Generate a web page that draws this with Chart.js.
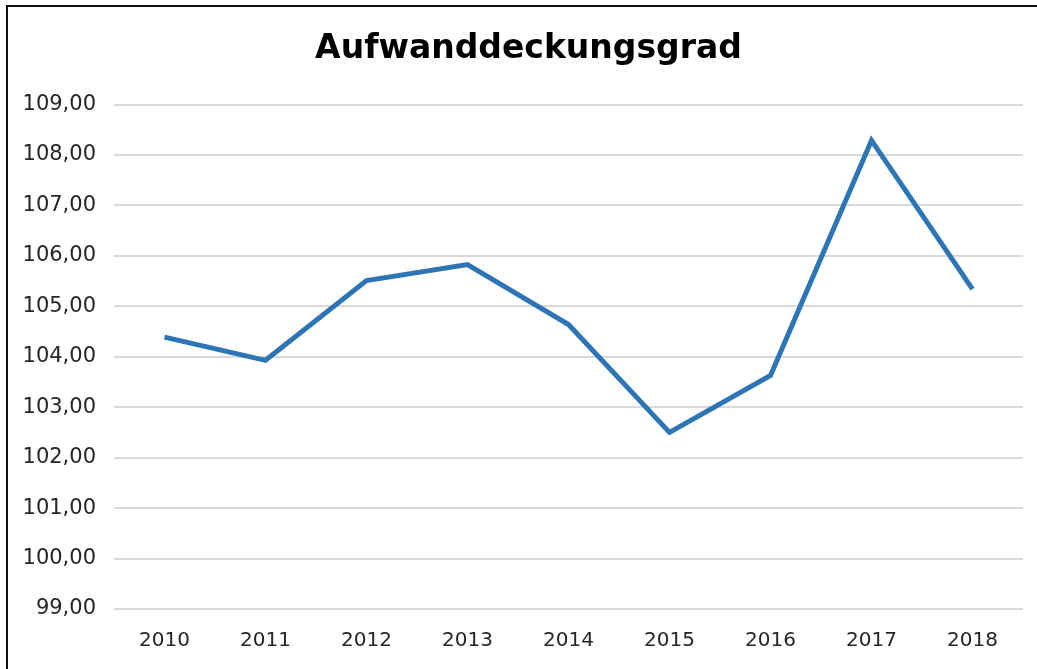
<!DOCTYPE html>
<html>
<head>
<meta charset="utf-8">
<script src="https://cdn.jsdelivr.net/npm/chart.js@4"></script>
<style>
  html, body { margin: 0; padding: 0; background: #fff; overflow: hidden; }
  #wrap { position: relative; width: 1037px; height: 669px; }
  #frame { position: absolute; left: 6px; top: 5px; width: 1100px; height: 700px;
           border: 2px solid #111; pointer-events: none; }
</style>
</head>
<body>
<div id="wrap">
  <canvas id="lineChart" width="1037" height="669"></canvas>
  <div id="frame"></div>
</div>
<script>
var years = ["2010", "2011", "2012", "2013", "2014", "2015", "2016", "2017", "2018"];
var deckungsgrad = [104.39, 103.93, 105.51, 105.83, 104.64, 102.50, 103.63, 108.29, 105.34];
var yMin = 99, yMax = 109;

// title sits a bit right of the canvas centre in the original
var shiftTitle = {
  id: 'shiftTitle',
  afterLayout: function (chart) {
    if (chart.titleBlock) {
      chart.titleBlock.left += 20;
      chart.titleBlock.width -= 20;
    }
  }
};

var ctx = document.getElementById("lineChart").getContext("2d");
var myLineChart = new Chart(ctx, {
  type: 'line',
  data: {
    labels: years,
    datasets: [{
      data: deckungsgrad,
      borderColor: "rgba(46, 117, 182, 1)",
      borderWidth: 5,
      pointRadius: 0,
      tension: 0,
      fill: false
    }]
  },
  options: {
    responsive: false,
    animation: false,
    layout: { padding: { left: 14, right: 14, top: 0, bottom: 4 } },
    plugins: {
      legend: { display: false },
      tooltip: { enabled: false },
      title: {
        display: true,
        text: 'Aufwanddeckungsgrad',
        color: '#000',
        font: { family: 'DejaVu Sans', size: 33, weight: 'bold' },
        padding: { top: 30, bottom: 35 }
      }
    },
    scales: {
      x: {
        offset: true,
        grid: { display: false },
        border: { display: false },
        ticks: {
          color: '#262626',
          font: { family: 'DejaVu Sans', size: 20 },
          padding: 12,
          maxRotation: 0
        }
      },
      y: {
        min: yMin,
        max: yMax,
        afterFit: function (scale) { scale.width = 100; },
        grid: { color: '#d9d9d9', lineWidth: 2, drawTicks: false },
        border: { display: false },
        ticks: {
          stepSize: 1,
          color: '#262626',
          font: { family: 'DejaVu Sans', size: 21 },
          padding: 18,
          callback: function (v) { return v.toFixed(2).replace('.', ','); }
        }
      }
    }
  },
  plugins: [shiftTitle]
});
</script>
</body>
</html>
